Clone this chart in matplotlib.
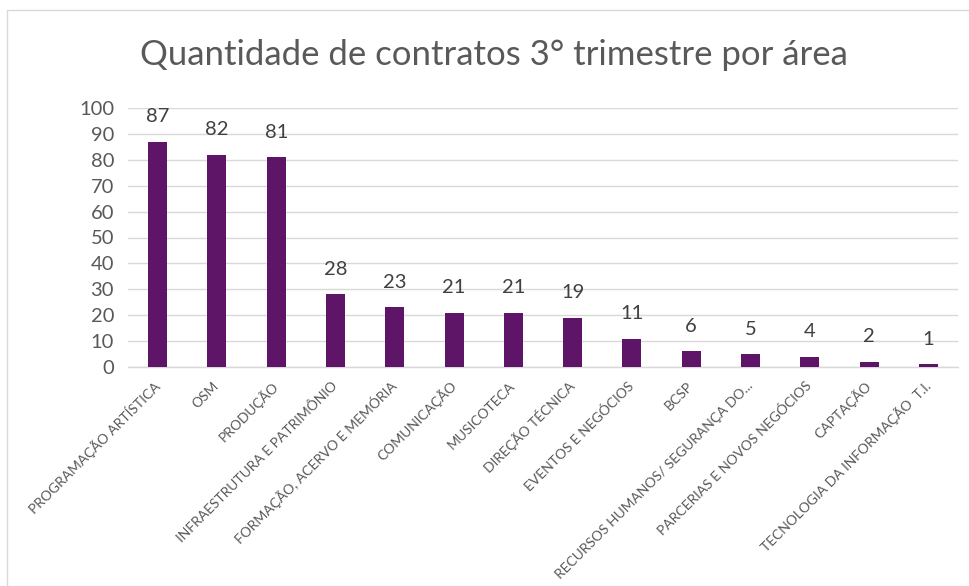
import matplotlib
matplotlib.use("Agg")
import matplotlib.pyplot as plt
from matplotlib.patches import Rectangle

categories = [
    "PROGRAMAÇÃO ARTÍSTICA", "OSM", "PRODUÇÃO", "INFRAESTRUTURA E PATRIMÔNIO",
    "FORMAÇÃO, ACERVO E MEMÓRIA", "COMUNICAÇÃO", "MUSICOTECA", "DIREÇÃO TÉCNICA",
    "EVENTOS E NEGÓCIOS", "BCSP", "RECURSOS HUMANOS/ SEGURANÇA DO...",
    "PARCERIAS E NOVOS NEGÓCIOS", "CAPTAÇÃO", "TECNOLOGIA DA INFORMAÇÃO  T.I.",
]
values = [87, 82, 81, 28, 23, 21, 21, 19, 11, 6, 5, 4, 2, 1]
yticks = [0, 10, 20, 30, 40, 50, 60, 70, 80, 90, 100]
title = "Quantidade de contratos 3° trimestre por área"

plt.rcParams['font.family'] = ['Lato', 'DejaVu Sans']

W, H = 970, 586
fig = plt.figure(figsize=(W / 100, H / 100), dpi=100)
fig.patch.set_facecolor('white')

# chart border (extends beyond right and bottom edges)
fig.patches.append(Rectangle((7 / W, -0.1), 2, 1.1 - 10 / H, transform=fig.transFigure,
                             fill=False, edgecolor='#D9D9D9', linewidth=1.0))

ax = fig.add_axes([128 / W, 1 - 367 / H, (958 - 128) / W, (367 - 108) / H])
x = list(range(len(categories)))
ax.bar(x, values, width=0.32, color='#5E1568', zorder=3)
ax.set_xlim(-0.5, len(categories) - 0.5)
ax.set_ylim(0, 100)
ax.set_yticks(yticks)
ax.set_yticklabels([str(t) for t in yticks], fontsize=14.5, color='#595959')
ax.yaxis.grid(True, color='#D9D9D9', linewidth=1.0, zorder=0)
for s in ['top', 'right', 'left']:
    ax.spines[s].set_visible(False)
ax.spines['bottom'].set_color('#D9D9D9')
ax.spines['bottom'].set_linewidth(1.0)
ax.tick_params(axis='both', length=0)
ax.tick_params(axis='y', pad=10)
ax.tick_params(axis='x', pad=12)
ax.set_xticks(x)
ax.set_xticklabels(categories, rotation=45, ha='right', va='center',
                   rotation_mode='anchor', fontsize=10, color='#595959')

for xi, v in zip(x, values):
    ax.annotate(str(v), (xi, v), xytext=(0, 18), textcoords='offset points',
                ha='center', va='center', fontsize=14.5, color='#404040')

fig.text(494 / W, 1 - 55 / H, title, ha='center', va='center', fontsize=25,
         color='#595959')

fig.savefig('out.png', dpi=100, facecolor='white')
